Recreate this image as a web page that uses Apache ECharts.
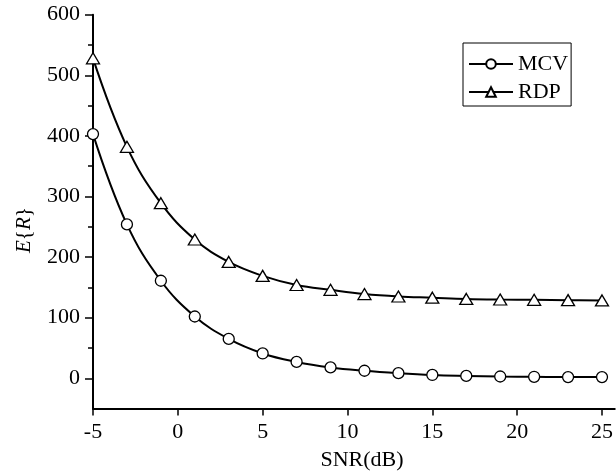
<!DOCTYPE html>
<html>
<head>
<meta charset="utf-8">
<script src="https://cdn.jsdelivr.net/npm/echarts@6/dist/echarts.min.js"></script>
<style>
html,body{margin:0;padding:0;background:#fff;}
#chart{width:616px;height:474px;}
</style>
</head>
<body>
<div id="chart"></div>
<script>
var snr = [-5, -3, -1, 1, 3, 5, 7, 9, 11, 13, 15, 17, 19, 21, 23, 25];
var mcv = [403, 254, 161, 102, 65, 41, 27, 18, 12.5, 8.5, 5.5, 4, 3, 2.5, 2, 2];
var rdp = [528, 382, 289, 229, 192, 169, 154, 146, 139, 135, 133, 131, 130, 129.5, 129, 128.5];
var xTicks = [-5, 0, 5, 10, 15, 20, 25];
var yTicks = [0, 100, 200, 300, 400, 500, 600];
var yMinorTicks = [50, 150, 250, 350, 450, 550];

var FONT = '"Liberation Serif", "Times New Roman", serif';
function pairs(xs, ys) { return xs.map(function (x, i) { return [x, ys[i]]; }); }

var X_MIN = -5, X_MAX = 25.75, Y_MIN = -50, Y_MAX = 600;
var tickStyle = { color: '#000', width: 1.5 };

function tickAxis(type, vals, len) {
  var ax = {
    type: 'value', min: type === 'x' ? X_MIN : Y_MIN, max: type === 'x' ? X_MAX : Y_MAX,
    position: type === 'x' ? 'bottom' : 'left',
    axisLine: { show: false, onZero: false },
    axisTick: { show: true, length: len, customValues: vals, lineStyle: tickStyle },
    axisLabel: { show: false },
    splitLine: { show: false }
  };
  return ax;
}

var chart = echarts.init(document.getElementById('chart'));
chart.setOption({
  animation: false,
  backgroundColor: '#fff',
  textStyle: { fontFamily: FONT, color: '#000' },
  grid: { left: 93, right: 0, top: 14.7, bottom: 65.4, containLabel: false },
  legend: {
    left: 463, top: 43, orient: 'vertical',
    borderColor: '#000', borderWidth: 1, borderRadius: 0,
    padding: [10, 3, 3, 5],
    itemWidth: 44, itemHeight: 12, itemGap: 6,
    textStyle: { fontFamily: FONT, fontSize: 22, color: '#000' },
    data: ['MCV', 'RDP']
  },
  xAxis: [{
    type: 'value', min: X_MIN, max: X_MAX, position: 'bottom',
    axisLine: { show: true, onZero: false, lineStyle: { color: '#000', width: 2 } },
    axisTick: { show: false },
    axisLabel: { customValues: xTicks, fontFamily: FONT, fontSize: 22, color: '#000', margin: 13 },
    splitLine: { show: false }
  }, tickAxis('x', xTicks, 7)],
  yAxis: [{
    type: 'value', min: Y_MIN, max: Y_MAX, position: 'left',
    axisLine: { show: true, onZero: false, lineStyle: { color: '#000', width: 2 } },
    axisTick: { show: false },
    axisLabel: { customValues: yTicks, fontFamily: FONT, fontSize: 22, color: '#000', margin: 13 },
    splitLine: { show: false }
  }, tickAxis('y', yTicks, 8), tickAxis('y', yMinorTicks, 5)],
  graphic: [{
    type: 'text', x: 14, y: 253, rotation: Math.PI / 2,
    style: {
      text: '{i|E}{{i|R}}',
      rich: {
        i: { fontFamily: FONT, fontSize: 21, fontStyle: 'italic', fill: '#000' }
      },
      fontFamily: FONT, fontSize: 21, fill: '#000'
    }
  }, {
    type: 'text', x: 362, y: 460,
    style: { text: 'SNR(dB)', fontFamily: FONT, fontSize: 22, fill: '#000', align: 'center', verticalAlign: 'middle' }
  }],
  series: [{
    name: 'MCV', type: 'line', data: pairs(snr, mcv), smooth: 0.4,
    symbol: 'circle', symbolSize: 11, showAllSymbol: true,
    lineStyle: { color: '#000', width: 2 },
    itemStyle: { color: '#fff', borderColor: '#000', borderWidth: 1.3 },
    z: 3
  }, {
    name: 'RDP', type: 'line', data: pairs(snr, rdp), smooth: 0.4,
    symbol: 'triangle', symbolSize: [13, 11], showAllSymbol: true,
    lineStyle: { color: '#000', width: 2 },
    itemStyle: { color: '#fff', borderColor: '#000', borderWidth: 1.3 },
    z: 3
  }]
});
</script>
</body>
</html>
